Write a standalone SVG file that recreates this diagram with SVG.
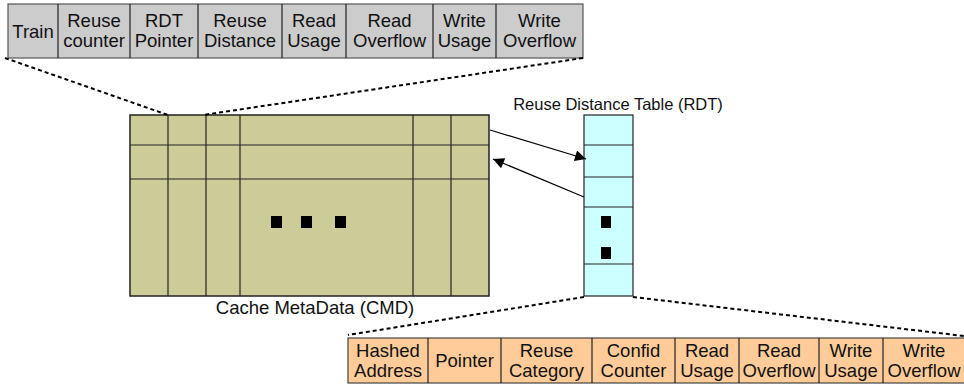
<svg xmlns="http://www.w3.org/2000/svg" width="964" height="386" viewBox="0 0 964 386">
<defs>
<style>
text{font-family:"Liberation Sans",Arial,sans-serif;font-size:18.5px;fill:#111;text-anchor:middle}
.lbl{font-size:16.5px}
.cap{font-size:18.5px}
.top{fill:#cccccc;stroke:#555;stroke-width:1.2}
.bot{fill:#ffcc99;stroke:#444;stroke-width:1.2}
.cmd{fill:#cccc99;stroke:#222;stroke-width:1.5}
.rdt{fill:#ccffff;stroke:#222;stroke-width:1.2}
.div{stroke:#222;stroke-width:1.2;fill:none}
.dot{stroke:#000;stroke-width:2;stroke-dasharray:4 3;fill:none}
.arr{stroke:#000;stroke-width:1.2;fill:none;marker-end:url(#ah)}
</style>
<marker id="ah" viewBox="0 0 10 10" refX="10" refY="5" markerWidth="16" markerHeight="11" markerUnits="userSpaceOnUse" orient="auto">
<path d="M0,0 L10,5 L0,10 z" fill="#000"/>
</marker>
</defs>

<g id="cmd-fields">
<rect class="top" x="8" y="4" width="575" height="54"/>
<path class="div" d="M58,4V58M130,4V58M198,4V58M282,4V58M346,4V58M433,4V58M496,4V58"/>
<text x="33" y="38">Train</text>
<text x="94" y="27">Reuse</text><text x="94" y="47">counter</text>
<text x="164" y="27">RDT</text><text x="164" y="47">Pointer</text>
<text x="240" y="27">Reuse</text><text x="240" y="47">Distance</text>
<text x="314" y="27">Read</text><text x="314" y="47">Usage</text>
<text x="389.5" y="27">Read</text><text x="389.5" y="47">Overflow</text>
<text x="464.5" y="27">Write</text><text x="464.5" y="47">Usage</text>
<text x="539.5" y="27">Write</text><text x="539.5" y="47">Overflow</text>
</g>

<g id="cmd">
<rect class="cmd" x="130" y="115" width="359" height="181"/>
<path class="div" d="M168,115V296M206,115V296M240,115V296M413,115V296M451,115V296M130,145H489M130,179H489"/>
<rect x="271" y="216" width="11" height="12" fill="#000"/>
<rect x="301" y="216" width="11" height="12" fill="#000"/>
<rect x="335" y="216" width="11" height="12" fill="#000"/>
<text class="cap" x="315" y="314">Cache MetaData (CMD)</text>
</g>

<g id="rdt">
<rect class="rdt" x="584" y="115" width="49" height="181"/>
<path class="div" d="M584,145H633M584,177H633M584,207H633M584,264H633"/>
<rect x="601" y="216" width="10" height="12" fill="#000"/>
<rect x="601" y="247" width="10" height="12" fill="#000"/>
<text class="lbl" x="618" y="110">Reuse Distance Table (RDT)</text>
</g>

<g id="rdt-fields">
<rect class="bot" x="348" y="338" width="620" height="45"/>
<path class="div" d="M428,338V383M501,338V383M592,338V383M675,338V383M739,338V383M819,338V383M883,338V383"/>
<text x="388" y="357">Hashed</text><text x="388" y="377">Address</text>
<text x="464.5" y="367">Pointer</text>
<text x="546.5" y="357">Reuse</text><text x="546.5" y="377">Category</text>
<text x="633.5" y="357">Confid</text><text x="633.5" y="377">Counter</text>
<text x="707" y="357">Read</text><text x="707" y="377">Usage</text>
<text x="779" y="357">Read</text><text x="779" y="377">Overflow</text>
<text x="851" y="357">Write</text><text x="851" y="377">Usage</text>
<text x="924" y="357">Write</text><text x="924" y="377">Overflow</text>
</g>

<g id="connectors">
<path class="dot" d="M5,58L168,115"/>
<path class="dot" d="M583,58L203,115"/>
<path class="dot" d="M584,297L348,335"/>
<path class="dot" d="M633,297L964,336"/>
<path class="arr" d="M490,130L586,159"/>
<path class="arr" d="M584,197L493,159"/>
</g>
</svg>
